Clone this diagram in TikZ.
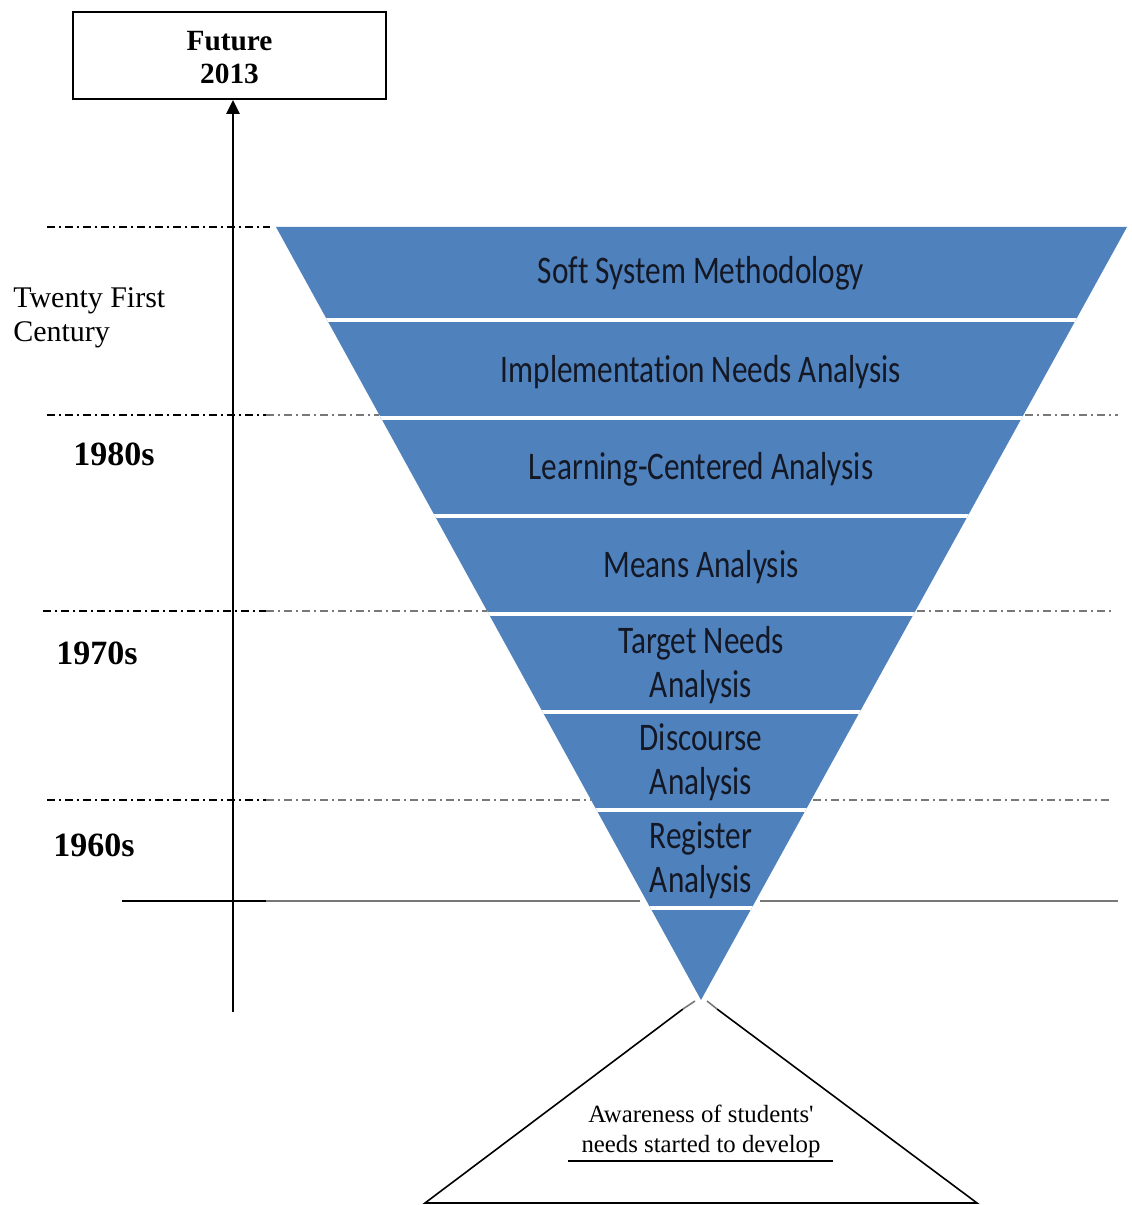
\documentclass[tikz,border=0pt]{standalone}
\usepackage{fontspec}
\setmainfont{Liberation Serif}
\newfontfamily\bandfont[FakeStretch=0.80,Ligatures=NoCommon]{Carlito}
\usetikzlibrary{arrows.meta,calc}
\definecolor{funnelblue}{RGB}{79,129,189}
\definecolor{bandtext}{RGB}{20,24,36}
\definecolor{ghost}{RGB}{120,120,120}
\begin{document}
\begin{tikzpicture}[x=0.75pt,y=-0.75pt,
  declare function={lx(\y)=276+(\y-227)/773*425; rx(\y)=1127-(\y-227)/773*426;},
  bandlabel/.style={font=\bandfont\fontsize{29.3}{33}\selectfont, text=bandtext, align=center, anchor=base, inner sep=0pt},
  eralabel/.style={font=\bfseries\fontsize{25.5}{28}\selectfont, anchor=base west, inner sep=0pt},
  era/.style={line width=1.1pt, dash pattern=on 6pt off 3pt on 1.5pt off 3pt},
]
\useasboundingbox (0,0) rectangle (1131,1205);

% inverted funnel cut into seven bands and a tip
\fill[funnelblue] (276,227) -- (1127,227) -- (701,1000) -- cycle;
\begin{scope}
  \clip (276,227) -- (1127,227) -- (701,1000) -- cycle;
  \foreach \yy in {320,418,516,614,712,810,908}
    \draw[white, line width=3.5pt] (200,\yy) -- (1200,\yy);
\end{scope}

% band labels (multi-line labels sit on the baseline of their last line)
\node[bandlabel] (b1) at (701,284) {Soft System Methodology};
\node[bandlabel] (b2) at (701,382) {Implementation Needs Analysis};
\node[bandlabel] (b3) at (701,479) {Learning-Centered Analysis};
\node[bandlabel] (b4) at (701,577) {Means Analysis};
\node[bandlabel] (b5) at (701,697) {Target Needs\\Analysis};
\node[bandlabel] (b6) at (701,794) {Discourse\\Analysis};
\node[bandlabel] (b7) at (701,892) {Register\\Analysis};

% period separators
\draw[era] (47,227) -- (270,227);
\draw[era] (47,415) -- (266,415);
\draw[era,ghost] (266,415) -- ({lx(415)},415);
\draw[era,ghost] ({rx(415)+2},415) -- (1118,415);
\draw[era] (43,611) -- (266,611);
\draw[era,ghost] (266,611) -- ({lx(611)},611);
\draw[era,ghost] ({rx(611)+2},611) -- (1113,611);
\draw[era] (47,800) -- (266,800);
\draw[era,ghost] (266,800) -- ({lx(800)},800);
\draw[era,ghost] ({rx(800)+2},800) -- (1112,800);

% base line of the time axis
\coordinate (baseL) at (122,901);
\coordinate (baseR) at (1118,901);
\draw[line width=1.5pt] (baseL) -- (266,901);
\draw[ghost, line width=2.2pt] (266,901) -- (640,901);
\draw[ghost, line width=2.2pt] (760,901) -- (baseR);

% period labels
\node[font=\fontsize{22.5}{24.75}\selectfont, align=left, anchor=base west, inner sep=0pt] (c21) at (13,341) {Twenty First\\Century};
\node[eralabel] (e80) at (73,465) {1980s};
\node[eralabel] (e70) at (56,664) {1970s};
\node[eralabel] (e60) at (53,856) {1960s};

% future box and time axis
\node[draw, line width=1.5pt, minimum width=234.75pt, minimum height=65.25pt] (future) at (229.5,55.5) {};
\node[align=center, anchor=base, inner sep=0pt,
      font=\bfseries\fontsize{22}{24.75}\selectfont] (futuretext) at (229.5,84) {Future\\2013};
\coordinate (tail) at (233,1012);
\draw[line width=1.5pt, -{Triangle[width=10pt,length=10.5pt]}] (tail) -- (tail |- future.south);

% origin triangle
\coordinate (apexL) at (695,1001);
\coordinate (apexR) at (707,1001);
\coordinate (tl) at (425,1203);
\coordinate (tr) at (977,1203);
\draw[line width=1.2pt, line join=miter] (683,1009) -- (tl) -- (tr) -- (717,1009);
\draw[ghost, line width=1.2pt] (683,1009) -- (apexL);
\draw[ghost, line width=1.2pt] (717,1009) -- (apexR);
\node[font=\fontsize{18.6}{22.5}\selectfont, align=center, anchor=base, inner sep=0pt] (aware) at (701,1152)
  {Awareness of students\textquotesingle\\needs started to develop};
\coordinate (ulL) at (568,1161);
\coordinate (ulR) at (833,1161);
\draw[line width=1.3pt] (ulL) -- (ulR);
\end{tikzpicture}
\end{document}
